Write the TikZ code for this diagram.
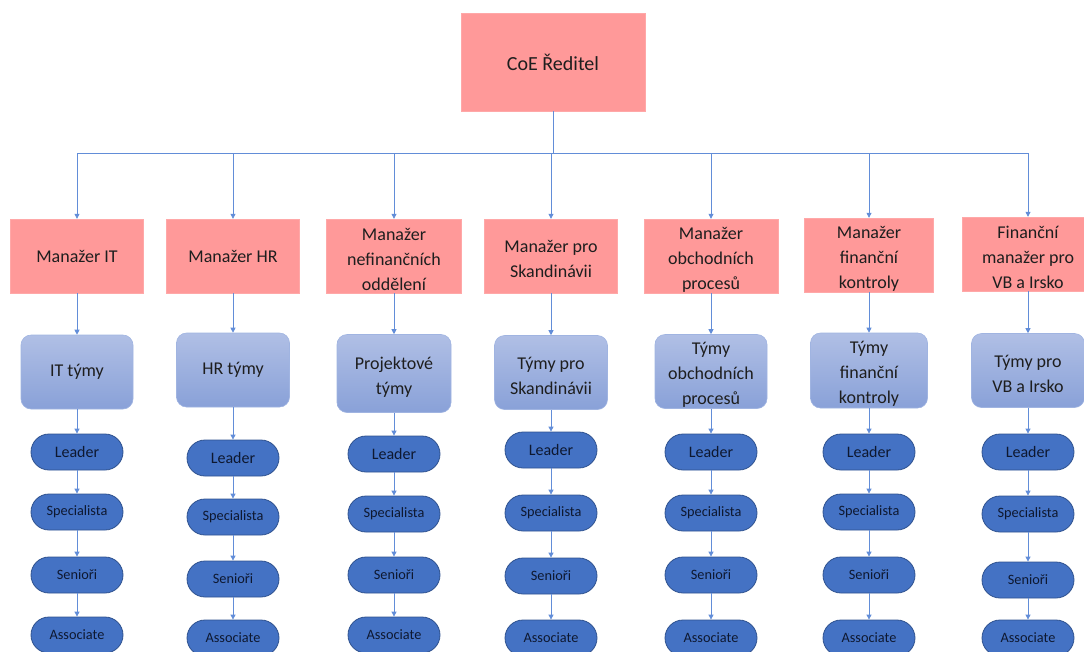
\documentclass[tikz,border=0pt]{standalone}
\usepackage{fontspec}
\setmainfont{Carlito}
\usetikzlibrary{arrows.meta,shapes.misc}
\definecolor{pinkbox}{RGB}{255,153,153}
\definecolor{linec}{RGB}{98,141,216}
\definecolor{teamtop}{RGB}{176,191,229}
\definecolor{teambot}{RGB}{137,161,216}
\definecolor{teamedge}{RGB}{160,180,225}
\definecolor{pillfill}{RGB}{68,114,196}
\definecolor{pilledge}{RGB}{47,82,143}
\definecolor{txt}{RGB}{30,30,30}
\definecolor{pilltxt}{RGB}{14,24,48}
\newcommand{\tallfirst}{\rule{0pt}{19pt}}
\tikzset{
  mgr/.style={fill=pinkbox, draw=pinkbox!85!white, line width=0.4pt, minimum width=133pt, minimum height=74pt, inner sep=0pt, align=center, text=txt, font=\fontsize{18}{25}\selectfont},
  ceobox/.style={mgr, minimum width=184pt, minimum height=98pt, font=\fontsize{20}{24}\selectfont},
  team/.style={rounded corners=10pt, top color=teamtop, bottom color=teambot, draw=teamedge, line width=0.6pt, minimum width=113pt, minimum height=74pt, inner sep=0pt, align=center, text=txt, font=\fontsize{18}{25}\selectfont},
  pill/.style={rounded rectangle, fill=pillfill, draw=pilledge, line width=0.8pt, minimum width=92pt, minimum height=36pt, inner sep=0pt, text=pilltxt, font=\fontsize{14.3}{16}\selectfont},
  conn/.style={draw=linec, line width=0.8pt},
  arr/.style={conn, -{Triangle[length=5pt,width=5pt]}}
}
\begin{document}
\begin{tikzpicture}[x=1pt,y=-1pt]
\useasboundingbox (0,0) rectangle (1084,651);
\node[ceobox] (ceo) at (553,62) {CoE Ředitel};
\foreach \i/\x/\mw/\my/\mtext/\ty/\th/\tw/\ttext/\la/\sb/\sc/\as in {
 1/77/133/256/{Manažer IT}/372/74/112/{IT týmy}/452/512/575/635,
 2/233/133/256/{Manažer HR}/370/74/113/{HR týmy}/458/517/579/638,
 3/394/135/256/{\tallfirst Manažer\\nefinančních\\oddělení}/373.5/78/114/{\tallfirst Projektové\\týmy}/454/514/575/635,
 4/551/133/256/{\tallfirst Manažer pro\\Skandinávii}/372.5/74/113/{\tallfirst Týmy pro\\Skandinávii}/450/513/576/638,
 5/711/134/256/{\tallfirst Manažer\\obchodních\\procesů}/371.5/74/112/{\tallfirst Týmy\\obchodních\\procesů}/452/513/575/638,
 6/869/129/255/{\tallfirst Manažer\\finanční\\kontroly}/370.5/75/117/{\tallfirst Týmy\\finanční\\kontroly}/452/512/575/638,
 7/1028/132/254/{\tallfirst Finanční\\manažer pro\\VB a Irsko}/370.5/74/113/{\tallfirst Týmy pro\\VB a Irsko}/452/514/580/638}{
  \coordinate (b\i) at (\x,153);
  \node[mgr, minimum width=\mw pt] (m\i) at (\x,\my) {\mtext};
  \node[team, minimum width=\tw pt, minimum height=\th pt] (t\i) at (\x,\ty) {\ttext};
  \node[pill, font=\fontsize{16}{18}\selectfont] (l\i) at (\x,\la) {Leader};
  \node[pill] (s\i) at (\x,\sb) {Specialista};
  \node[pill] (r\i) at (\x,\sc) {Senioři};
  \node[pill] (a\i) at (\x,\as) {Associate};
  \draw[arr] (b\i) -- (m\i.north);
  \draw[arr] (m\i.south) -- (t\i.north);
  \draw[arr] (t\i.south) -- (l\i.north);
  \draw[arr] (l\i.south) -- (s\i.north);
  \draw[arr] (s\i.south) -- (r\i.north);
  \draw[arr] (r\i.south) -- (a\i.north);
}
\draw[conn] (b1) -- (b7);
\draw[conn] (ceo.south) -- (ceo.south |- b1);
\end{tikzpicture}
\end{document}
